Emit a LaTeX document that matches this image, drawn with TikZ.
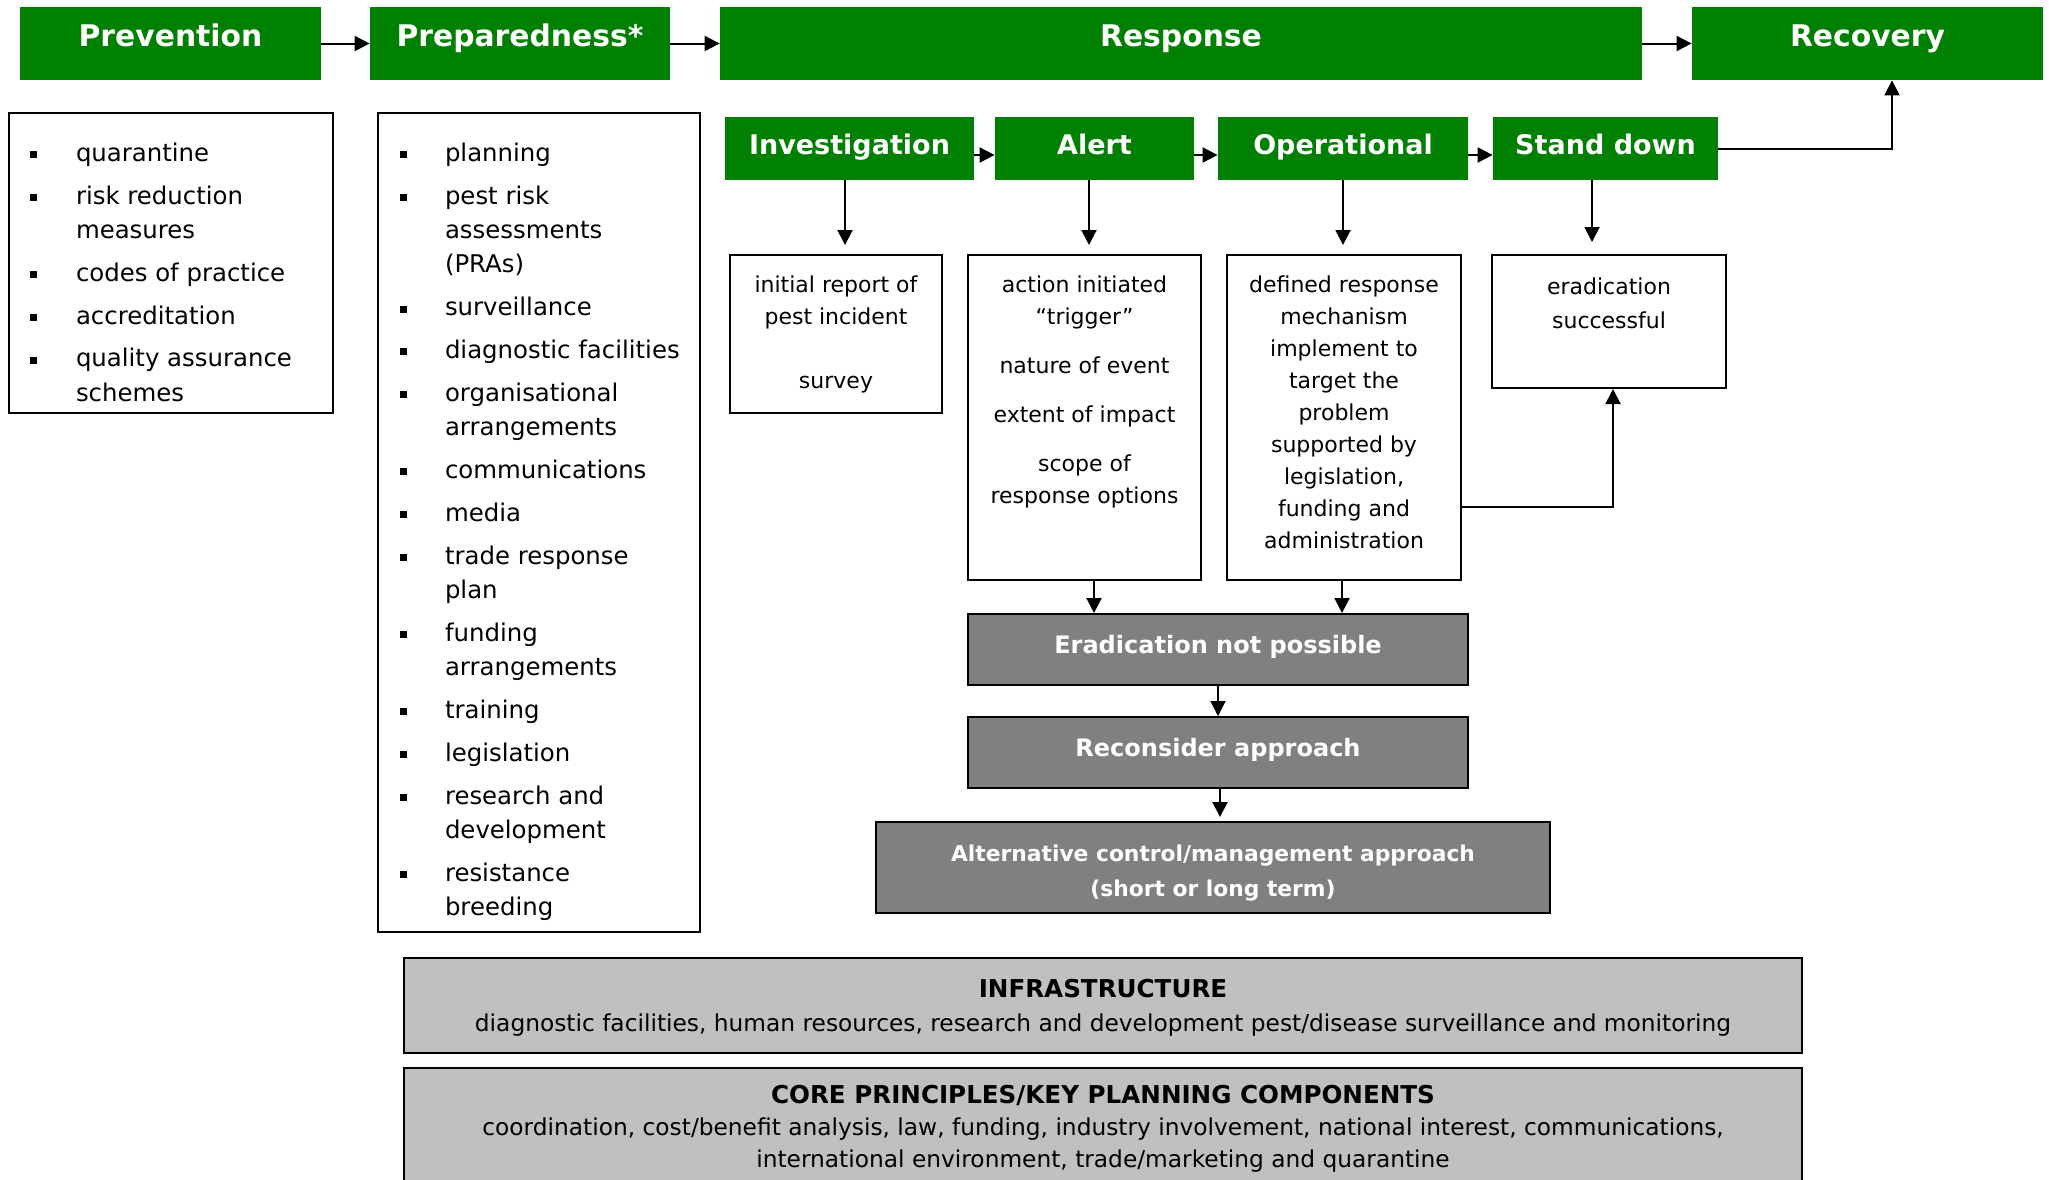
\documentclass[tikz,border=0pt]{standalone}
\usepackage{fontspec}
\setmainfont{DejaVu Sans}
\usetikzlibrary{arrows.meta}
\definecolor{phasegreen}{RGB}{0,128,0}
\definecolor{darkbox}{RGB}{128,128,128}
\definecolor{lightbox}{RGB}{192,192,192}
% list with small square bullets
\newenvironment{dotlist}{\begin{list}{\rule[1.55pt]{3.5pt}{3.5pt}}{%
  \setlength{\leftmargin}{33.5pt}\setlength{\labelsep}{19.25pt}%
  \setlength{\labelwidth}{14.25pt}\setlength{\itemsep}{4.2pt}%
  \setlength{\parsep}{0pt}\setlength{\topsep}{0pt}\setlength{\partopsep}{0pt}%
  \raggedright}}{\end{list}}
\begin{document}
\begin{tikzpicture}[x=0.5pt,y=-0.5pt,>={Triangle[length=7.5pt,width=7.5pt]},
  phase/.style={fill=phasegreen,text=white,inner sep=0pt,minimum height=36.5pt,
    font=\fontsize{14.9}{17}\selectfont\bfseries,text height=11pt,text depth=8.5pt},
  stage/.style={fill=phasegreen,text=white,inner sep=0pt,minimum height=31.5pt,
    font=\fontsize{13.5}{16}\selectfont\bfseries,text height=10.5pt,text depth=5pt},
  listbox/.style={draw,line width=1pt,inner sep=0pt,font=\fontsize{12.2}{17.2}\selectfont},
  detail/.style={draw,line width=1pt,inner sep=0pt,font=\fontsize{11}{16}\selectfont},
  outcome/.style={draw,line width=1pt,fill=darkbox,text=white,inner sep=0pt,
    font=\fontsize{12}{18}\selectfont\bfseries,text height=9pt,text depth=4.7pt},
  basebox/.style={draw,line width=1pt,fill=lightbox,inner sep=0pt,align=center,
    font=\fontsize{11.65}{17}\selectfont},
  conn/.style={->,line width=1pt}]
\useasboundingbox (0,0) rectangle (2049,1179);
% main phases
\node[phase,minimum width=150.5pt] (prev) at (170.5,43.5) {Prevention};
\node[phase,minimum width=150pt] (prep) at (520,43.5) {Preparedness*};
\node[phase,minimum width=461pt] (resp) at (1181,43.5) {Response};
\node[phase,minimum width=175.5pt] (recov) at (1867.5,43.5) {Recovery};
% response stages
\node[stage,minimum width=124.5pt] (inv) at (849.5,148.5) {Investigation};
\node[stage,minimum width=99.5pt] (alert) at (1094.5,148.5) {Alert};
\node[stage,minimum width=125pt] (oper) at (1343,148.5) {Operational};
\node[stage,minimum width=112.5pt] (stand) at (1605.5,148.5) {Stand down};
% lists
\node[listbox] (prevlist) at (171,263) {\parbox[c][150pt][t]{162pt}{\begin{dotlist}
  \item\rule{0pt}{24.1pt}quarantine
  \item risk reduction\\measures
  \item codes of practice
  \item accreditation
  \item quality assurance\\schemes
\end{dotlist}}};
\node[listbox] (preplist) at (539,522.5) {\parbox[c][409.5pt][t]{161pt}{\begin{dotlist}
  \item\rule{0pt}{24.1pt}planning
  \item pest risk\\assessments\\(PRAs)
  \item surveillance
  \item diagnostic facilities
  \item organisational\\arrangements
  \item communications
  \item media
  \item trade response\\plan
  \item funding\\arrangements
  \item training
  \item legislation
  \item research and\\development
  \item resistance\\breeding
\end{dotlist}}};
% stage details
\node[detail] (report) at (836,334) {\parbox[c][79pt][t]{106pt}{\centering
  \rule{0pt}{18.6pt}initial report of\\pest incident\\[16pt]survey}};
\node[detail] (action) at (1084.5,417.5) {\parbox[c][162.5pt][t]{116.5pt}{\centering
  \rule{0pt}{18.6pt}action initiated\\“trigger”\\[8.5pt]nature of event\\[8.5pt]extent of impact\\[8.5pt]scope of\\response options}};
\node[detail] (defined) at (1344,417.5) {\parbox[c][162.5pt][t]{117pt}{\centering
  \rule{0pt}{18.6pt}defined response\\mechanism\\implement to\\target the\\problem\\supported by\\legislation,\\funding and\\administration}};
\node[detail] (done) at (1609,321.5) {\parbox[c][66.5pt][t]{117pt}{\centering\baselineskip=17pt
  \rule{0pt}{19.8pt}eradication\\successful}};
% no eradication
\node[outcome,minimum width=250pt,minimum height=35.5pt] (enp) at (1218,649.5) {Eradication not possible};
\node[outcome,minimum width=250pt,minimum height=35.5pt] (recon) at (1218,752.5) {Reconsider approach};
\node[outcome,minimum width=337pt,minimum height=45.5pt,align=center,text height=,text depth=,
  font=\fontsize{10.9}{17.5}\selectfont\bfseries] (alt) at (1213,867.5)
  {\rule{0pt}{14.1pt}Alternative control/management approach\\(short or long term)};
% foundations
\node[basebox,minimum width=699pt,minimum height=47.5pt] (infra) at (1103,1005.5)
  {\rule{0pt}{11.7pt}{\bfseries\fontsize{12.3}{17}\selectfont INFRASTRUCTURE}\\diagnostic facilities, human resources, research and development pest/disease surveillance and monitoring};
\node[basebox,minimum width=699pt,minimum height=61pt,font=\fontsize{11.65}{16}\selectfont] (core) at (1103,1129)
  {{\bfseries\fontsize{12.3}{16}\selectfont CORE PRINCIPLES/KEY PLANNING COMPONENTS}\\coordination, cost/benefit analysis, law, funding, industry involvement, national interest, communications,\\international environment, trade/marketing and quarantine};
% arrows
\draw[conn] (prev) -- (prep);
\draw[conn] (prep) -- (resp);
\draw[conn] (resp) -- (recov);
\draw[conn] ([yshift=-3.25pt]inv.east) -- ([yshift=-3.25pt]alert.west);
\draw[conn] ([yshift=-3.25pt]alert.east) -- ([yshift=-3.25pt]oper.west);
\draw[conn] ([yshift=-3.25pt]oper.east) -- ([yshift=-3.25pt]stand.west);
\draw[conn] (stand.east) -| ([xshift=12.25pt]recov.south);
\draw[conn,shorten >=4.5pt] ([xshift=-2.25pt]inv.south) -- ([xshift=-2.25pt]inv.south |- report.north);
\draw[conn,shorten >=4.5pt] ([xshift=-2.75pt]alert.south) -- ([xshift=-2.75pt]alert.south |- action.north);
\draw[conn,shorten >=4.5pt] (oper.south) -- (oper.south |- defined.north);
\draw[conn,shorten >=6pt] ([xshift=-6.75pt]stand.south) -- ([xshift=-6.75pt]stand.south |- done.north);
\draw[conn] ([xshift=4.75pt]action.south) -- ([xshift=4.75pt]action.south |- enp.north);
\draw[conn] ([xshift=-1pt]defined.south) -- ([xshift=-1pt]defined.south |- enp.north);
\draw[conn] (enp) -- (recon);
\draw[conn,shorten >=2pt] ([xshift=1pt]recon.south) -- ([xshift=1pt]recon.south |- alt.north);
\draw[conn] ([yshift=-44.75pt]defined.east) -| ([xshift=2pt]done.south);
\end{tikzpicture}
\end{document}
